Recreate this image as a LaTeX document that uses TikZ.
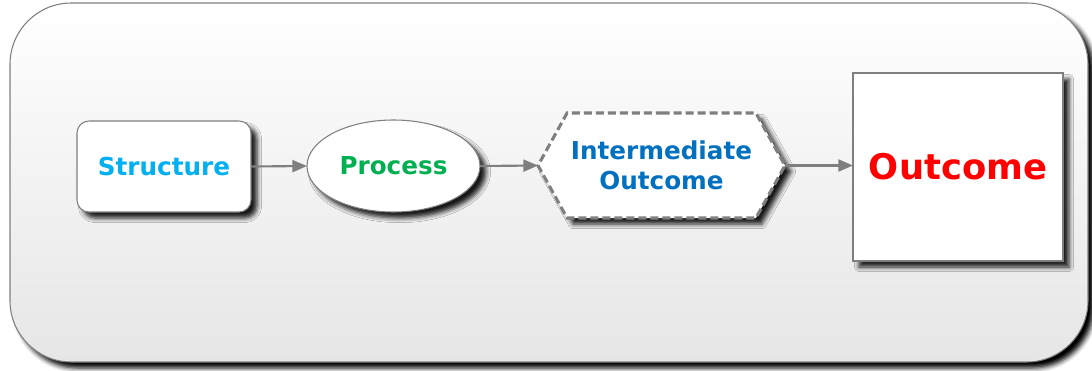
\documentclass[tikz,border=0pt]{standalone}
\usepackage{fontspec}
\setmainfont{DejaVu Sans}
\usetikzlibrary{shapes.geometric,shapes.symbols,arrows.meta,shadows.blur}
\definecolor{structblue}{HTML}{00B0F0}
\definecolor{procgreen}{HTML}{00B050}
\definecolor{interblue}{HTML}{0070C0}
\definecolor{edgegray}{HTML}{7F7F7F}
\definecolor{panelgray}{HTML}{E6E6E6}

\begin{document}
\begin{tikzpicture}[x=0.75pt,y=0.75pt,yscale=-1,xscale=1,
    nodeshadow/.style={blur shadow={shadow xshift=4.5pt,shadow yshift=-4.5pt,shadow blur radius=3.5pt,shadow opacity=90}},
    flowbox/.style={draw=edgegray,line width=0.8pt,fill=white,inner sep=0pt,outer sep=0pt,nodeshadow,font=\fontsize{18.5}{22.5}\selectfont\bfseries,align=center},
    flowarrow/.style={draw=edgegray,line width=1.6pt,-{Triangle[length=11pt,width=9pt]}}]
    \useasboundingbox (0,0) rectangle (1092,371);

    % Panel
    \path[draw=edgegray,line width=0.8pt,rounded corners=46pt,top color=white,bottom color=panelgray,
        blur shadow={shadow xshift=4.5pt,shadow yshift=-4.5pt,shadow blur radius=3.5pt,shadow opacity=100}]
        (10,3) rectangle (1088,362);

    % Nodes
    \node (structure) [flowbox,rounded corners=9pt,minimum width=130.5pt,minimum height=68.25pt,text=structblue] at (164,166.5) {Structure};
    \node (process) [flowbox,ellipse,minimum width=129.75pt,minimum height=69pt,text=procgreen] at (393.5,166) {Process};
    \node (intermediate) [flowbox,signal,signal to=west and east,signal pointer angle=122,dash pattern=on 6pt off 3pt,line width=2.3pt,
        minimum width=185.25pt,minimum height=78.75pt,text=interblue] at (661.5,165.5) {Intermediate\\Outcome};
    \node (outcome) [flowbox,rectangle,minimum width=157.5pt,minimum height=141pt,text=red,font=\fontsize{26.5}{30}\selectfont\bfseries] at (958,167) {Outcome};

    % Connectors
    \draw[flowarrow] (structure.east) -- (process.west);
    \draw[flowarrow] (process.east) -- (intermediate.west);
    \draw[flowarrow] (intermediate.east) -- (intermediate.east -| outcome.west);

\end{tikzpicture}
\end{document}
